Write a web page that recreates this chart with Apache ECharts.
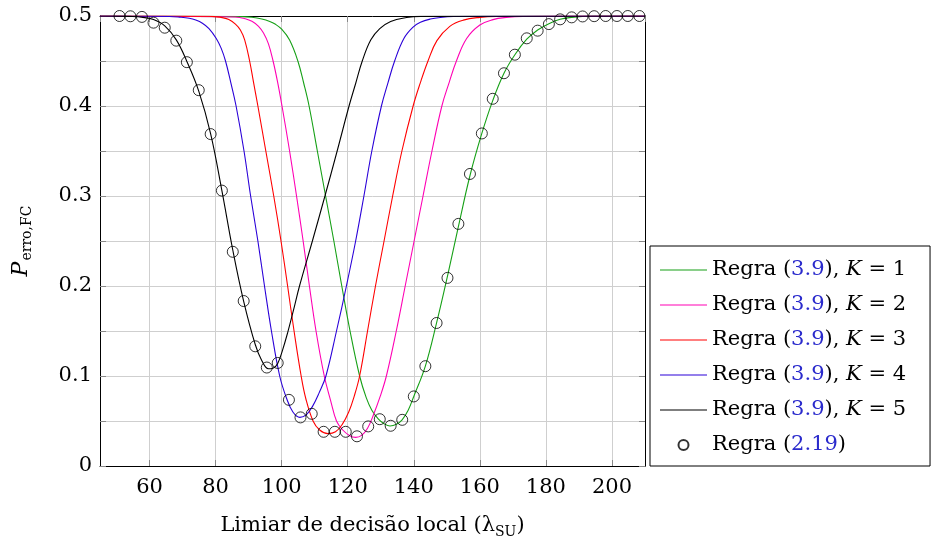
<!DOCTYPE html>
<html><head><meta charset="utf-8">
<script src="https://cdn.jsdelivr.net/npm/echarts@6/dist/echarts.min.js"></script>
<style>html,body{margin:0;padding:0;background:#fff}#c{width:933px;height:544px}</style>
</head><body><div id="c"></div>
<script>
// ---- data ----
const k1X = [45, 88, 91, 94, 96.4, 98, 100, 102.4, 104.9, 106.7, 108.3, 110.8, 113.3, 115.8, 118.2, 120.7, 123.6, 125.6, 127.3, 129.3, 131, 132.8, 134.6, 136.4, 138.3, 140, 143.5, 146.9, 150.2, 153.5, 157, 160.6, 163.9, 167.3, 170.6, 174.2, 177.5, 180.9, 184.3, 187.8, 191.1, 195, 200, 210];
const k1Y = [0.5, 0.4993, 0.4986, 0.4967, 0.494, 0.4911, 0.4853, 0.4732, 0.45, 0.425, 0.4, 0.35, 0.3, 0.25, 0.2, 0.15, 0.1, 0.076, 0.062, 0.052, 0.047, 0.0445, 0.046, 0.051, 0.062, 0.0773, 0.111, 0.159, 0.211, 0.266, 0.3225, 0.3695, 0.406, 0.4364, 0.457, 0.4742, 0.4845, 0.4915, 0.4963, 0.4985, 0.4995, 0.4999, 0.5, 0.5];

const k2X = [45, 86, 89, 91, 93, 94.5, 96, 97.4, 98.8, 100.1, 102.4, 104.5, 106.5, 108.4, 110.4, 112.9, 114.8, 116.6, 118.5, 120.5, 122.4, 124.2, 126, 127.8, 129.8, 131.7, 134.7, 137.4, 140.1, 142.8, 145.5, 148.5, 150.7, 152.9, 156, 160, 164, 168, 173, 210];
const k2Y = [0.5, 0.4989, 0.497, 0.4941, 0.4885, 0.481, 0.469, 0.45, 0.426, 0.4, 0.35, 0.3, 0.25, 0.2, 0.15, 0.1, 0.073, 0.05, 0.04, 0.034, 0.0318, 0.034, 0.042, 0.057, 0.077, 0.1, 0.15, 0.2, 0.25, 0.3, 0.35, 0.4, 0.426, 0.45, 0.475, 0.49, 0.496, 0.4984, 0.4995, 0.5];

const k3X = [45, 78, 80, 82, 84, 86, 87.5, 88.8, 90.3, 91.5, 92.8, 95.2, 97.6, 99.8, 101.8, 103.75, 105.9, 107.3, 109.5, 111.5, 114, 116.3, 118.3, 120.3, 122, 123.6, 126, 128.4, 131, 133.6, 136.4, 139.8, 142, 144.3, 147, 150.9, 155, 160, 165, 210];
const k3Y = [0.5, 0.4997, 0.4992, 0.4982, 0.496, 0.491, 0.4845, 0.4735, 0.45, 0.426, 0.4, 0.35, 0.3, 0.25, 0.2, 0.15, 0.1, 0.075, 0.05, 0.04, 0.036, 0.038, 0.046, 0.06, 0.078, 0.1, 0.15, 0.2, 0.25, 0.3, 0.35, 0.4, 0.426, 0.45, 0.4726, 0.4885, 0.4954, 0.4985, 0.4995, 0.5];

const k4X = [45, 66, 69, 72, 74, 76, 78, 80.2, 81.7, 83, 84.6, 86.2, 88.6, 90.6, 92.8, 94.8, 96.9, 99.4, 101.5, 103.4, 105.5, 107.5, 109.3, 111.3, 113.4, 116.6, 119.6, 122.4, 124.9, 127.3, 130.2, 132.2, 134.2, 137, 139.8, 142, 145, 148, 152, 210];
const k4Y = [0.5, 0.4995, 0.4988, 0.4975, 0.4955, 0.492, 0.486, 0.475, 0.464, 0.45, 0.426, 0.4, 0.35, 0.3, 0.25, 0.2, 0.15, 0.1, 0.075, 0.06, 0.054, 0.057, 0.066, 0.081, 0.1, 0.15, 0.2, 0.25, 0.3, 0.35, 0.4, 0.426, 0.45, 0.475, 0.4877, 0.493, 0.4966, 0.4984, 0.4994, 0.5];

const k5X = [45, 50, 54, 58, 61.2, 64.6, 68.1, 71.3, 74.9, 78.5, 81.9, 85.2, 88.5, 92, 94, 96, 97.5, 98.8, 100.2, 101.8, 103.5, 105.4, 109.3, 113.1, 116.8, 120.4, 122.4, 124.4, 127, 129.7, 133, 137.8, 142, 210];
const k5Y = [0.5, 0.4999, 0.4996, 0.4985, 0.496, 0.489, 0.4735, 0.4495, 0.4165, 0.369, 0.306, 0.24, 0.183, 0.135, 0.117, 0.108, 0.109, 0.114, 0.128, 0.148, 0.172, 0.2, 0.25, 0.3, 0.35, 0.4, 0.425, 0.45, 0.4735, 0.486, 0.494, 0.4983, 0.4996, 0.5];

const circX = [50.9, 54.2, 57.7, 61.2, 64.6, 68.1, 71.3, 74.9, 78.5, 81.9, 85.2, 88.5, 92.0, 95.5, 98.8, 102.2, 105.7, 109.1, 112.7, 116.1, 119.4, 122.8, 126.2, 129.7, 133.0, 136.5, 140.0, 143.5, 146.9, 150.2, 153.5, 157.0, 160.6, 163.9, 167.3, 170.6, 174.2, 177.5, 180.9, 184.3, 187.8, 191.1, 194.6, 198.1, 201.5, 204.8, 208.3];
const circY = [0.5, 0.4997, 0.499, 0.4926, 0.487, 0.4726, 0.4487, 0.4176, 0.3688, 0.306, 0.238, 0.1833, 0.133, 0.1094, 0.1145, 0.0735, 0.054, 0.058, 0.038, 0.038, 0.038, 0.033, 0.044, 0.052, 0.0447, 0.0513, 0.0773, 0.1109, 0.1589, 0.209, 0.269, 0.3245, 0.3695, 0.408, 0.4364, 0.457, 0.4752, 0.4837, 0.491, 0.4963, 0.4985, 0.4995, 0.4998, 0.5, 0.5, 0.5, 0.5];

const xTickValues = [60, 80, 100, 120, 140, 160, 180, 200];
const yTickLabels = ['0', '0.1', '0.2', '0.3', '0.4', '0.5'];
const curveKs = ['1', '2', '3', '4', '5'];
const curveNames = ['Regra (3.9), K = 1', 'Regra (3.9), K = 2', 'Regra (3.9), K = 3', 'Regra (3.9), K = 4', 'Regra (3.9), K = 5'];
const circName = 'Regra (2.19)';
const curveColors = ['#16a016', '#ff00b4', '#ff0000', '#2a00d8', '#000000'];

// ---- build ----
const FONT = 'DejaVu Serif';
const pair = (xs, ys) => xs.map((x, i) => [x, ys[i]]);
const curves = [[k1X, k1Y], [k2X, k2Y], [k3X, k3Y], [k4X, k4Y], [k5X, k5Y]];

const series = curves.map((c, i) => ({
  name: curveNames[i], type: 'line', data: pair(c[0], c[1]),
  symbol: 'none', smooth: 0.4,
  lineStyle: { color: curveColors[i], width: 1.1 },
  itemStyle: { color: curveColors[i] }, z: 3
}));
series.push({
  name: circName, type: 'scatter', data: pair(circX, circY),
  symbol: 'circle', symbolSize: 11,
  itemStyle: { color: 'rgba(0,0,0,0)', borderColor: '#000', borderWidth: 1 }, z: 4
});

const tickStyle = { inside: true, length: 6, lineStyle: { color: '#888', width: 1 } };
const lineStyleAxis = { show: true, onZero: false, lineStyle: { color: '#000', width: 1 } };
const lineIcon = 'path://M0,0L47,0L47,1.2L0,1.2Z';

const chart = echarts.init(document.getElementById('c'), null, { renderer: 'canvas' });
chart.setOption({
  animation: false,
  backgroundColor: '#fff',
  grid: { left: 100, right: 288, top: 16, bottom: 77, containLabel: false },
  xAxis: [{
    type: 'value', min: 45, max: 210, splitNumber: 8, position: 'bottom',
    axisLine: lineStyleAxis, axisTick: tickStyle,
    axisLabel: {
      showMinLabel: false, showMaxLabel: false, margin: 11,
      fontFamily: FONT, fontSize: 21, color: '#000',
      formatter: v => xTickValues.includes(v) ? String(v) : ''
    },
    splitLine: { show: true, lineStyle: { color: '#cfcfcf', width: 1 } },
    name: '{a|Limiar de decisão local (λ}{s|SU}{a|)}',
    nameLocation: 'middle', nameGap: 47,
    nameTextStyle: {
      rich: {
        a: { fontFamily: FONT, fontSize: 21, color: '#000', lineHeight: 26 },
        s: { fontFamily: FONT, fontSize: 14, color: '#000', lineHeight: 14, padding: [12, 0, 0, 0], verticalAlign: 'top' }
      }
    }
  }, {
    type: 'value', min: 45, max: 210, splitNumber: 8, position: 'top',
    axisLine: lineStyleAxis, axisTick: tickStyle,
    axisLabel: { show: false }, splitLine: { show: false }
  }],
  yAxis: [{
    type: 'value', min: 0, max: 0.5, interval: 0.05, position: 'left',
    axisLine: lineStyleAxis, axisTick: tickStyle,
    axisLabel: {
      margin: 8, fontFamily: FONT, fontSize: 21, color: '#000',
      formatter: v => { const i = Math.round(v * 20); return i % 2 === 0 ? yTickLabels[i / 2] : ''; }
    },
    splitLine: { show: true, lineStyle: { color: '#cfcfcf', width: 1 } },
    name: '{p|P}{s|erro,FC}', nameLocation: 'middle', nameGap: 66, nameRotate: 90,
    nameTextStyle: {
      rich: {
        p: { fontFamily: FONT, fontSize: 22, fontStyle: 'italic', color: '#000', lineHeight: 26 },
        s: { fontFamily: FONT, fontSize: 14, color: '#000', lineHeight: 14, padding: [12, 0, 0, 1], verticalAlign: 'top' }
      }
    }
  }, {
    type: 'value', min: 0, max: 0.5, interval: 0.05, position: 'right',
    axisLine: lineStyleAxis, axisTick: tickStyle,
    axisLabel: { show: false }, splitLine: { show: false }
  }],
  legend: {
    orient: 'vertical', left: 650, top: 246,
    padding: [12, 24, 9, 10], itemWidth: 47, itemHeight: 10, itemGap: 11,
    borderColor: '#000', borderWidth: 1, backgroundColor: '#fff',
    data: curveNames.map(n => ({ name: n, icon: lineIcon })).concat([{ name: circName }]),
    formatter: name => {
      const i = curveNames.indexOf(name);
      if (i >= 0) return '{r|Regra (}{b|3.9}{r|), }{i|K}{r| = ' + curveKs[i] + '}';
      return '{r|Regra (}{b|2.19}{r|)}';
    },
    textStyle: {
      fontFamily: FONT, fontSize: 21, color: '#000', lineHeight: 24,
      rich: {
        r: { fontFamily: FONT, fontSize: 21, color: '#000', lineHeight: 24 },
        b: { fontFamily: FONT, fontSize: 21, color: '#2a2acc', lineHeight: 24 },
        i: { fontFamily: FONT, fontSize: 21, color: '#000', fontStyle: 'italic', lineHeight: 24 }
      }
    }
  },
  series: series
});
</script>
</body></html>
